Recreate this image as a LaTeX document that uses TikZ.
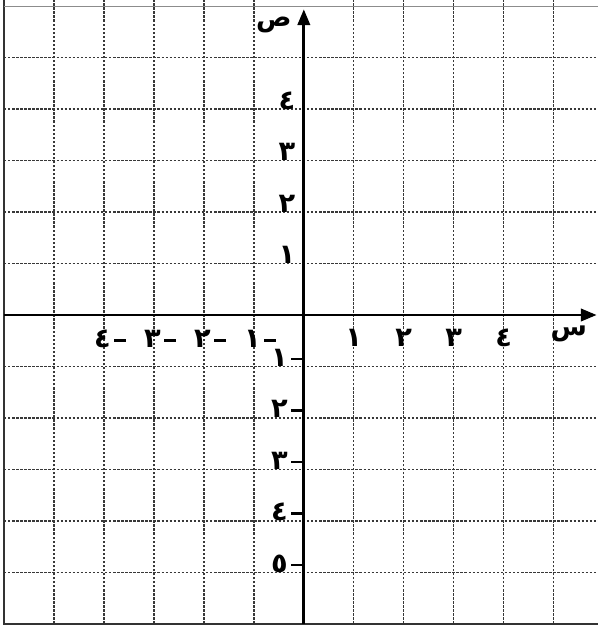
\documentclass[tikz,border=0pt]{standalone}
\usepackage{fontspec}
\newfontfamily\arabicfont[Script=Arabic]{DejaVu Sans}
\usetikzlibrary{arrows.meta}
\tikzset{
  gridline/.style={draw=black!78, line width=0.8pt, dash pattern=on 1.4pt off 0.9pt},
  axisline/.style={draw=black, line width=1.6pt, -{Triangle[length=9pt,width=7pt]}},
  frameline/.style={draw=black!80, line width=1.1pt},
  topline/.style={draw=black!45, line width=0.6pt},
  numlbl/.style={inner sep=0pt, font=\arabicfont\bfseries\fontsize{15.5}{15.5}\selectfont},
  axlbl/.style={inner sep=0pt, font=\arabicfont\bfseries\fontsize{15}{15}\selectfont}
}
\newcommand{\neglbl}[1]{#1\kern2pt\rule[3.6pt]{6.5pt}{1.3pt}}
\begin{document}
\begin{tikzpicture}[x=1cm,y=1.03cm]
\useasboundingbox (-6.08,-6.12) rectangle (5.88,6.12);
% grid
\foreach \i in {-5,...,-1,1,2,3,4,5} {
  \draw[gridline] (\i,-6) -- (\i,6.12);
  \draw[gridline] (-6,\i) -- (5.88,\i);
}
% frame
\draw[frameline] (-6,6.12) -- (-6,-6) -- (5.88,-6);
\draw[topline] (-6,6) -- (5.88,6);
% axes
\coordinate (xs) at (-6,0);
\coordinate (xe) at (5.86,0);
\coordinate (ys) at (0,-6);
\coordinate (ye) at (0,5.94);
\draw[axisline] (xs) -- (xe);
\draw[axisline] (ys) -- (ye);
% axis names
\node[axlbl] (lblY) at (-0.6,5.63) {ص};
\node[axlbl] (lblX) at (5.3,-0.36) {س};
% x labels
\node[numlbl] (x1) at (1,-0.45) {١};
\node[numlbl] (x2) at (2,-0.45) {٢};
\node[numlbl] (x3) at (3,-0.45) {٣};
\node[numlbl] (x4) at (4,-0.45) {٤};
\node[numlbl] (xm1) at (-0.88,-0.47) {\neglbl{١}};
\node[numlbl] (xm2) at (-1.88,-0.47) {\neglbl{٢}};
\node[numlbl] (xm3) at (-2.88,-0.47) {\neglbl{٣}};
\node[numlbl] (xm4) at (-3.88,-0.47) {\neglbl{٤}};
% y labels
\node[numlbl,anchor=base] (y1) at (-0.34,1.0) {١};
\node[numlbl,anchor=base] (y2) at (-0.34,2.0) {٢};
\node[numlbl,anchor=base] (y3) at (-0.34,3.0) {٣};
\node[numlbl,anchor=base] (y4) at (-0.34,4.0) {٤};
\node[numlbl,anchor=base] (ym1) at (-0.34,-1.0) {\neglbl{١}};
\node[numlbl,anchor=base] (ym2) at (-0.34,-2.0) {\neglbl{٢}};
\node[numlbl,anchor=base] (ym3) at (-0.34,-3.0) {\neglbl{٣}};
\node[numlbl,anchor=base] (ym4) at (-0.34,-4.0) {\neglbl{٤}};
\node[numlbl,anchor=base] (ym5) at (-0.34,-5.0) {\neglbl{٥}};
\end{tikzpicture}
\end{document}
